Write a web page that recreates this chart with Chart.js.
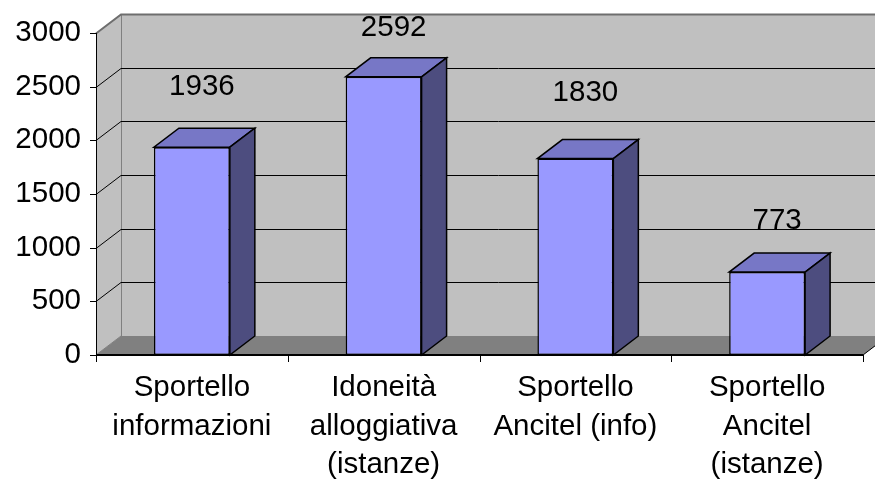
<!DOCTYPE html>
<html>
<head>
<meta charset="utf-8">
<script src="https://cdn.jsdelivr.net/npm/chart.js@4.4.0/dist/chart.umd.min.js"></script>
<style>
  html, body { margin: 0; padding: 0; background: #fff; }
  #wrap { width: 875px; height: 479px; }
</style>
</head>
<body>
<div id="wrap"><canvas id="chart" width="875" height="479"></canvas></div>
<script>
// --- data ---
const categories = [
    ['Sportello', 'informazioni'],
    ['Idoneità', 'alloggiativa', '(istanze)'],
    ['Sportello', 'Ancitel (info)'],
    ['Sportello', 'Ancitel', '(istanze)']
];
const values = [1936, 2592, 1830, 773];
const yTicks = [0, 500, 1000, 1500, 2000, 2500, 3000];

// --- look of the fake 3D box ---
const DX = 25, DY = 19;            // depth offset towards the back wall
const labelLift = [60, 49, 66, 51]; // how far each value label sits above its bar
const FONT = { family: '"Liberation Sans", Arial, sans-serif', size: 29.5 };

const box3d = {
    id: 'box3d',
    beforeDatasetsDraw(chart) {
        const { ctx, chartArea: a, scales: { x, y } } = chart;
        const L = a.left, R = a.right;
        const B = y.getPixelForValue(0), T = y.getPixelForValue(yTicks[yTicks.length - 1]);

        ctx.save();
        // back wall + left wall
        ctx.fillStyle = '#c0c0c0';
        ctx.fillRect(L + DX, T - DY, R - L, B - T);
        ctx.beginPath();
        ctx.moveTo(L, T); ctx.lineTo(L + DX, T - DY); ctx.lineTo(L + DX, B - DY); ctx.lineTo(L, B);
        ctx.closePath(); ctx.fill();

        // floor
        ctx.fillStyle = '#808080';
        ctx.beginPath();
        ctx.moveTo(L, B); ctx.lineTo(R, B); ctx.lineTo(R + DX, B - DY); ctx.lineTo(L + DX, B - DY);
        ctx.closePath(); ctx.fill();

        // wall edges
        ctx.strokeStyle = '#808080';
        ctx.lineWidth = 1;
        ctx.beginPath();
        ctx.moveTo(L + DX + 0.5, T - DY); ctx.lineTo(L + DX + 0.5, B - DY);
        ctx.moveTo(L, B); ctx.lineTo(L + DX, B - DY);
        ctx.stroke();

        // gridlines on the walls
        yTicks.forEach(v => {
            if (v === 0) return;
            const py = Math.round(y.getPixelForValue(v)) + 0.5;
            const top = v === yTicks[yTicks.length - 1];
            ctx.strokeStyle = top ? '#6e6e6e' : '#000';
            ctx.lineWidth = top ? 2 : 1;
            ctx.beginPath();
            ctx.moveTo(L, py); ctx.lineTo(L + DX, py - DY); ctx.lineTo(R + DX + 5, py - DY);
            ctx.stroke();
        });

        // floor right edge
        ctx.strokeStyle = '#000';
        ctx.lineWidth = 1;
        ctx.beginPath();
        ctx.moveTo(R, B); ctx.lineTo(R + DX, B - DY);
        ctx.stroke();

        // value axis + ticks
        ctx.beginPath();
        ctx.moveTo(L + 0.5, T); ctx.lineTo(L + 0.5, B);
        yTicks.forEach(v => {
            const py = Math.round(y.getPixelForValue(v)) + 0.5;
            ctx.moveTo(L - 6, py); ctx.lineTo(L, py);
        });
        ctx.stroke();
        ctx.restore();
    },
    afterDatasetsDraw(chart) {
        const { ctx, chartArea: a, scales: { x, y } } = chart;
        const bars = chart.getDatasetMeta(0).data;
        const B = y.getPixelForValue(0);

        ctx.save();
        ctx.strokeStyle = '#000';
        ctx.lineWidth = 1.5;
        ctx.lineJoin = 'miter';
        bars.forEach(el => {
            const x0 = el.x - el.width / 2, x1 = el.x + el.width / 2;
            const yt = el.y, yb = el.base;
            // top face
            ctx.fillStyle = '#7777c6';
            ctx.beginPath();
            ctx.moveTo(x0, yt); ctx.lineTo(x1, yt); ctx.lineTo(x1 + DX, yt - DY); ctx.lineTo(x0 + DX, yt - DY);
            ctx.closePath(); ctx.fill(); ctx.stroke();
            // side face
            ctx.fillStyle = '#4d4d7f';
            ctx.beginPath();
            ctx.moveTo(x1, yt); ctx.lineTo(x1 + DX, yt - DY); ctx.lineTo(x1 + DX, yb - DY); ctx.lineTo(x1, yb);
            ctx.closePath(); ctx.fill(); ctx.stroke();
        });

        // category axis line + tick marks between categories
        ctx.lineWidth = 2;
        ctx.beginPath();
        ctx.moveTo(a.left, B); ctx.lineTo(a.right, B);
        ctx.stroke();
        ctx.lineWidth = 1;
        ctx.beginPath();
        const step = (a.right - a.left) / categories.length;
        for (let i = 0; i <= categories.length; i++) {
            const px = (i < categories.length ? x.getPixelForValue(i) - step / 2 : x.getPixelForValue(i - 1) + step / 2);
            const rx = Math.round(px) + 0.5;
            ctx.moveTo(rx, B); ctx.lineTo(rx, B + 7);
        }
        ctx.stroke();

        // value labels
        ctx.fillStyle = '#000';
        ctx.font = `${FONT.size}px ${FONT.family}`;
        ctx.textAlign = 'center';
        ctx.textBaseline = 'middle';
        bars.forEach((el, i) => {
            ctx.fillText(String(values[i]), el.x + 10, el.y - labelLift[i]);
        });
        ctx.restore();
    }
};

new Chart(document.getElementById('chart'), {
    type: 'bar',
    data: {
        labels: categories,
        datasets: [{
            data: values,
            backgroundColor: '#9999ff',
            borderColor: '#000',
            borderWidth: 1.5,
            borderSkipped: false,
            barPercentage: 0.396,
            categoryPercentage: 1
        }]
    },
    options: {
        responsive: false,
        animation: false,
        devicePixelRatio: 1,
        layout: { padding: { top: 33, right: 12, left: 0, bottom: 0 } },
        plugins: { legend: { display: false }, tooltip: { enabled: false } },
        scales: {
            x: {
                grid: { display: false, drawTicks: false },
                border: { display: false },
                ticks: { color: '#000', font: { ...FONT, lineHeight: 1.32 }, padding: 13, maxRotation: 0, autoSkip: false },
                afterFit(scale) { scale.height = 124; }
            },
            y: {
                min: 0,
                max: 3000,
                grid: { display: false, drawTicks: false },
                border: { display: false },
                ticks: { color: '#000', font: FONT, padding: 15, stepSize: 500, callback: v => String(v) },
                afterFit(scale) { scale.width = 96; }
            }
        }
    },
    plugins: [box3d]
});
</script>
</body>
</html>
